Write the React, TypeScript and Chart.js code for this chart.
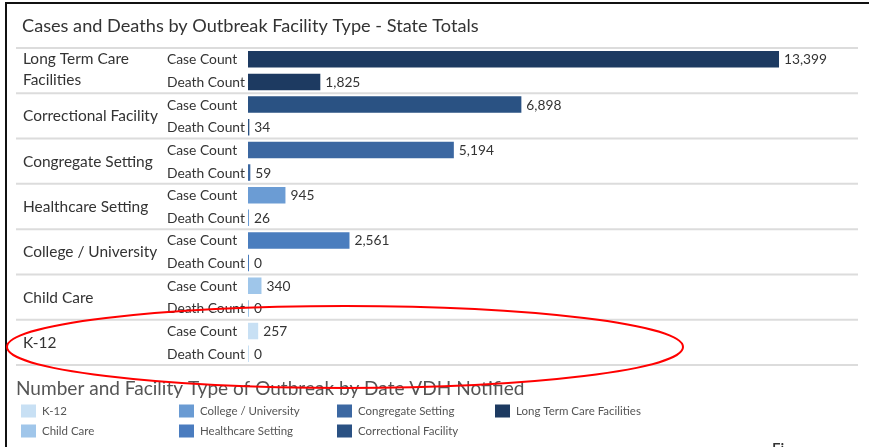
import { useEffect, useRef } from 'react';
import { Chart, registerables } from 'chart.js';

Chart.register(...registerables);

const chartTitle = 'Cases and Deaths by Outbreak Facility Type - State Totals';
const legendTitle = 'Number and Facility Type of Outbreak by Date VDH Notified';
const categories = [
  'Long Term Care Facilities',
  'Correctional Facility',
  'Congregate Setting',
  'Healthcare Setting',
  'College / University',
  'Child Care',
  'K-12',
];
const measures = ['Case Count', 'Death Count'];
const caseCounts = [13399, 6898, 5194, 945, 2561, 340, 257];
const deathCounts = [1825, 34, 59, 26, 0, 0, 0];
const categoryColors = ['#1d3a61', '#2a5283', '#3b67a1', '#6b9cd4', '#4a7dbe', '#9fc6ea', '#c8e0f4'];
const legendLabels = [
  'K-12',
  'Child Care',
  'College / University',
  'Healthcare Setting',
  'Congregate Setting',
  'Correctional Facility',
  'Long Term Care Facilities',
];
const legendColors = ['#c8e0f4', '#a0c6ea', '#6a9bd3', '#4a7cbf', '#3c68a2', '#2a5183', '#1d3a61'];
const xMax = 15392;

const FAMILY = 'Lato, "Open Sans", sans-serif';

function fitSize(ctx: CanvasRenderingContext2D, text: string, target: number) {
  ctx.font = `400 100px ${FAMILY}`;
  return (100 * target) / ctx.measureText(text).width;
}
function setFont(ctx: CanvasRenderingContext2D, size: number) {
  ctx.font = `400 ${size}px ${FAMILY}`;
}
function capH(ctx: CanvasRenderingContext2D) {
  return ctx.measureText('H').actualBoundingBoxAscent;
}
function wrap(ctx: CanvasRenderingContext2D, text: string, maxW: number) {
  const words = text.split(' ');
  const lines: string[] = [];
  let cur = '';
  for (const w of words) {
    const t = cur ? cur + ' ' + w : w;
    if (ctx.measureText(t).width > maxW && cur) {
      lines.push(cur);
      cur = w;
    } else cur = t;
  }
  if (cur) lines.push(cur);
  return lines;
}

const decor = {
  id: 'decor',
  beforeDraw(chart: any) {
    const { ctx, chartArea } = chart;
    const y = chart.scales.y;
    const W = chart.width;
    const H = chart.height;
    ctx.save();
    ctx.fillStyle = '#ffffff';
    ctx.fillRect(0, 0, W, H);
    // frame
    ctx.fillStyle = '#111111';
    ctx.fillRect(5, 2, W - 5, 2);
    ctx.fillRect(5, 2, 2, H - 2);
    // title
    ctx.textAlign = 'left';
    ctx.textBaseline = 'alphabetic';
    setFont(ctx, fitSize(ctx, chartTitle, 457));
    ctx.fillStyle = '#333333';
    ctx.fillText(chartTitle, 22, 32);

    const n = y.ticks.length;
    const rowH = y.getPixelForValue(1) - y.getPixelForValue(0);
    // separators
    ctx.strokeStyle = '#dcdcdc';
    ctx.lineWidth = 2;
    for (let g = 0; g <= categories.length; g++) {
      const idx = g * measures.length;
      const py = idx < n ? y.getPixelForValue(idx) - rowH / 2 : y.getPixelForValue(n - 1) + rowH / 2;
      ctx.beginPath();
      ctx.moveTo(16, py);
      ctx.lineTo(chartArea.right, py);
      ctx.stroke();
    }
    // category labels
    setFont(ctx, fitSize(ctx, 'Correctional Facility', 135));
    const c1 = capH(ctx);
    ctx.fillStyle = '#333333';
    categories.forEach((cat, g) => {
      const a = y.getPixelForValue(g * 2);
      const b = y.getPixelForValue(g * 2 + 1);
      const center = (a + b) / 2;
      const lines = wrap(ctx, cat, 140);
      const lh = 20.5;
      const shift = lines.length > 1 ? -1.5 : 0;
      lines.forEach((ln, i) => {
        ctx.fillText(ln, 23, center + c1 / 2 + (i - (lines.length - 1) / 2) * lh + shift);
      });
    });
    // row labels
    setFont(ctx, fitSize(ctx, 'Death Count', 78));
    const c2 = capH(ctx);
    for (let i = 0; i < n; i++) {
      const py = y.getPixelForValue(i);
      ctx.fillText(measures[i % measures.length], 167, py + c2 / 2);
    }
    ctx.restore();
  },
  afterDatasetsDraw(chart: any) {
    const { ctx } = chart;
    const meta = chart.getDatasetMeta(0);
    const data = chart.data.datasets[0].data as number[];
    ctx.save();
    ctx.textAlign = 'left';
    ctx.textBaseline = 'alphabetic';
    // value labels
    setFont(ctx, fitSize(ctx, '13,399', 43));
    const c3 = capH(ctx);
    ctx.fillStyle = '#333333';
    meta.data.forEach((bar: any, i: number) => {
      ctx.fillText(data[i].toLocaleString('en-US'), bar.x + 5, bar.y + c3 / 2);
    });
    // legend title
    setFont(ctx, fitSize(ctx, legendTitle, 509));
    ctx.fillStyle = '#555555';
    ctx.fillText(legendTitle, 16, 395);
    // legend items
    setFont(ctx, fitSize(ctx, 'Long Term Care Facilities', 125));
    const c4 = capH(ctx);
    const colX = [21, 179, 337, 495];
    const rowY = [411, 431];
    legendLabels.forEach((lab, i) => {
      const cx = colX[Math.floor(i / 2)];
      const cy = rowY[i % 2];
      ctx.fillStyle = legendColors[i];
      ctx.fillRect(cx, cy - 6.5, 15, 13);
      ctx.fillStyle = '#555555';
      ctx.fillText(lab, cx + 21, cy + c4 / 2);
    });
    // partial text at bottom edge
    ctx.fillStyle = '#333333';
    ctx.font = `600 15px ${FAMILY}`;
    ctx.textBaseline = 'top';
    ctx.fillText('Fi', 772, 442);
    // red annotation ellipse
    ctx.strokeStyle = '#ff0000';
    ctx.lineWidth = 2;
    ctx.beginPath();
    ctx.ellipse(345, 347, 338, 41, 0, 0, Math.PI * 2);
    ctx.stroke();
    ctx.restore();
  },
};

export default function App() {
  const ref = useRef<HTMLCanvasElement>(null);
  useEffect(() => {
    const rowLabels = categories.flatMap((c) => measures.map((m) => `${c} | ${m}`));
    const values = categories.flatMap((_, i) => [caseCounts[i], deathCounts[i]]);
    const colors = categories.flatMap((_, i) => [categoryColors[i], categoryColors[i]]);
    const chart = new Chart(ref.current as HTMLCanvasElement, {
      type: 'bar',
      data: {
        labels: rowLabels,
        datasets: [
          {
            data: values,
            backgroundColor: colors,
            borderWidth: 0,
            barPercentage: 0.73,
            categoryPercentage: 1,
            minBarLength: 1,
          },
        ],
      },
      options: {
        indexAxis: 'y',
        responsive: false,
        animation: false,
        devicePixelRatio: 1,
        layout: { padding: { left: 248, right: 869 - 858, top: 48, bottom: 447 - 365 } },
        scales: {
          x: { min: 0, max: xMax, display: false },
          y: { display: false },
        },
        plugins: {
          legend: { display: false },
          tooltip: { enabled: false },
          title: { display: false },
        },
      },
      plugins: [decor],
    });
    return () => chart.destroy();
  }, []);
  return (
    <div style={{ position: 'absolute', left: 0, top: 0, width: 869, height: 447, background: '#fff' }}>
      <canvas ref={ref} width={869} height={447} style={{ display: 'block', width: 869, height: 447 }} />
    </div>
  );
}
